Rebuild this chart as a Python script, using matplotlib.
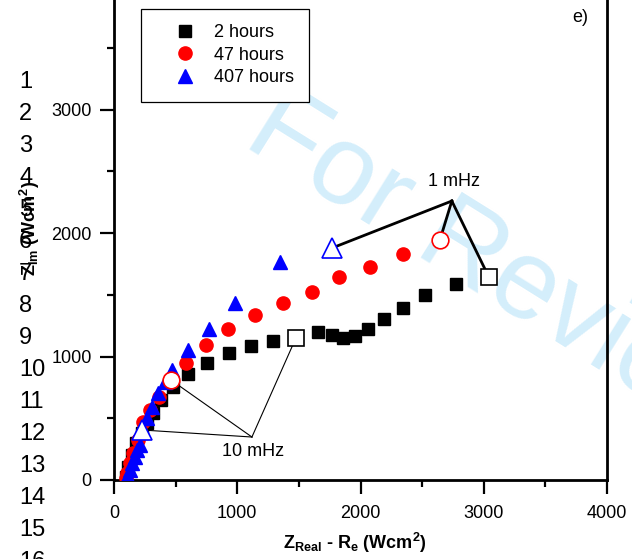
import numpy as np
import matplotlib
matplotlib.use("Agg")
import matplotlib.pyplot as plt

plt.rcParams['font.family'] = ['Liberation Sans', 'DejaVu Sans']
plt.rcParams['mathtext.fontset'] = 'custom'
plt.rcParams['mathtext.rm'] = 'Liberation Sans'
plt.rcParams['mathtext.bf'] = 'Liberation Sans:bold'
plt.rcParams['mathtext.it'] = 'Liberation Sans:italic'

# ---- data ----
x_2h = [97, 114, 146, 178, 227, 268, 316, 381, 478, 600, 754, 933, 1111, 1290,
        1654, 1768, 1857, 1955, 2060, 2190, 2344, 2522, 2774]
y_2h = [24, 105, 202, 300, 380, 462, 543, 648, 753, 860, 950, 1028, 1085, 1125,
        1198, 1174, 1150, 1166, 1223, 1304, 1393, 1498, 1587]

x_47h = [95, 105, 130, 154, 195, 235, 292, 365, 586, 746, 925, 1144, 1371, 1606,
         1825, 2076, 2344]
y_47h = [15, 57, 138, 219, 324, 470, 567, 672, 950, 1095, 1223, 1336, 1433, 1522,
         1644, 1725, 1830]

x_407h = [100, 114, 130, 146, 170, 187, 211, 268, 308, 357, 414, 470, 600, 770,
          981, 1346]
y_407h = [5, 24, 81, 138, 186, 243, 283, 502, 591, 704, 794, 891, 1053, 1223,
          1433, 1765]

# open markers: 10 mHz and 1 mHz points  (2h, 47h, 407h)
x_10mhz = [1476, 462, 227]
y_10mhz = [1150, 810, 405]
x_1mhz = [3041, 2644, 1768]
y_1mhz = [1644, 1943, 1878]

# annotation junctions
j10 = (1119, 348)
j1 = (2741, 2259)

labels = ['2 hours', '47 hours', '407 hours']
colors = ['black', 'red', 'blue']
markers = ['s', 'o', '^']

fig = plt.figure(figsize=(6.32, 5.59), dpi=100)

# watermark behind everything
fig.text(241 / 632, 1 - 145 / 559, 'For Review Only', fontsize=82, color='#d4eefb',
         rotation=-32, rotation_mode='anchor', ha='left', va='baseline', zorder=-5)

ax = fig.add_axes([114 / 632, 79 / 559, 493 / 632, 494 / 559])
ax.set_facecolor('none')

ax.plot(x_2h, y_2h, 's', color='black', ms=9, ls='none', label=labels[0], zorder=3)
ax.plot(x_47h, y_47h, 'o', color='red', ms=9.5, ls='none', label=labels[1], zorder=4)
ax.plot(x_407h, y_407h, '^', color='blue', ms=10, ls='none', label=labels[2], zorder=5)

# annotation lines
for xo, yo in zip(x_10mhz, y_10mhz):
    ax.plot([j10[0], xo], [j10[1], yo], color='black', lw=0.8, zorder=2)
for xo, yo in zip(x_1mhz, y_1mhz):
    ax.plot([j1[0], xo], [j1[1], yo], color='black', lw=2, zorder=2)

sizes = [11, 12, 14]
for i in range(3):
    ax.plot([x_10mhz[i], x_1mhz[i]], [y_10mhz[i], y_1mhz[i]], markers[i], ls='none',
            mfc='white', mec=colors[i], mew=1.2, ms=sizes[i], zorder=6)

ax.text(1127, 227, '10 mHz', fontsize=13, ha='center', va='center')
ax.text(2760, 2420, '1 mHz', fontsize=13, ha='center', va='center')
fig.text(580 / 632, 1 - 17 / 559, 'e)', fontsize=13, ha='center', va='center')

ax.set_xlim(0, 4000)
ax.set_ylim(0, 4000)
ax.set_xticks([0, 1000, 2000, 3000, 4000])
ax.set_yticks([0, 1000, 2000, 3000])
ax.set_xticks([500, 1500, 2500, 3500], minor=True)
ax.set_yticks([500, 1500, 2500, 3500], minor=True)
ax.tick_params(which='major', direction='out', length=10, width=1.6, labelsize=13)
ax.tick_params(axis='x', which='major', pad=8)
ax.tick_params(axis='y', which='major', pad=6)
ax.tick_params(which='minor', direction='out', length=5, width=1.6)
for s in ['left', 'right', 'bottom']:
    ax.spines[s].set_linewidth(2)
ax.spines['top'].set_visible(False)

leg = ax.legend(loc='upper left', bbox_to_anchor=(141 / 632, 1 - 9 / 559),
                bbox_transform=fig.transFigure, borderaxespad=0, fontsize=13,
                frameon=True, fancybox=False, edgecolor='black', framealpha=1,
                handlelength=3.2, handletextpad=0.0, labelspacing=0.3,
                borderpad=0.85)
leg.get_frame().set_linewidth(0.9)

fig.text(355 / 632, 1 - 543 / 559,
         r'$\mathbf{Z_{Real}}$ - $\mathbf{R_{e}}$ (Wcm$^{\mathbf{2}}$)',
         fontsize=13, fontweight='bold', ha='center', va='center')
fig.text(30 / 632, 1 - 228 / 559, r'$\mathbf{Z_{Im}}$ (Wcm$^{\mathbf{2}}$)',
         fontsize=13, fontweight='bold', ha='center', va='center', rotation=90)

# manuscript line numbers in the margin
for n in range(1, 17):
    fig.text(19 / 632, 1 - (82 + 32 * (n - 1)) / 559, str(n), fontsize=17,
             ha='left', va='center')

fig.savefig('out.png', dpi=100)
